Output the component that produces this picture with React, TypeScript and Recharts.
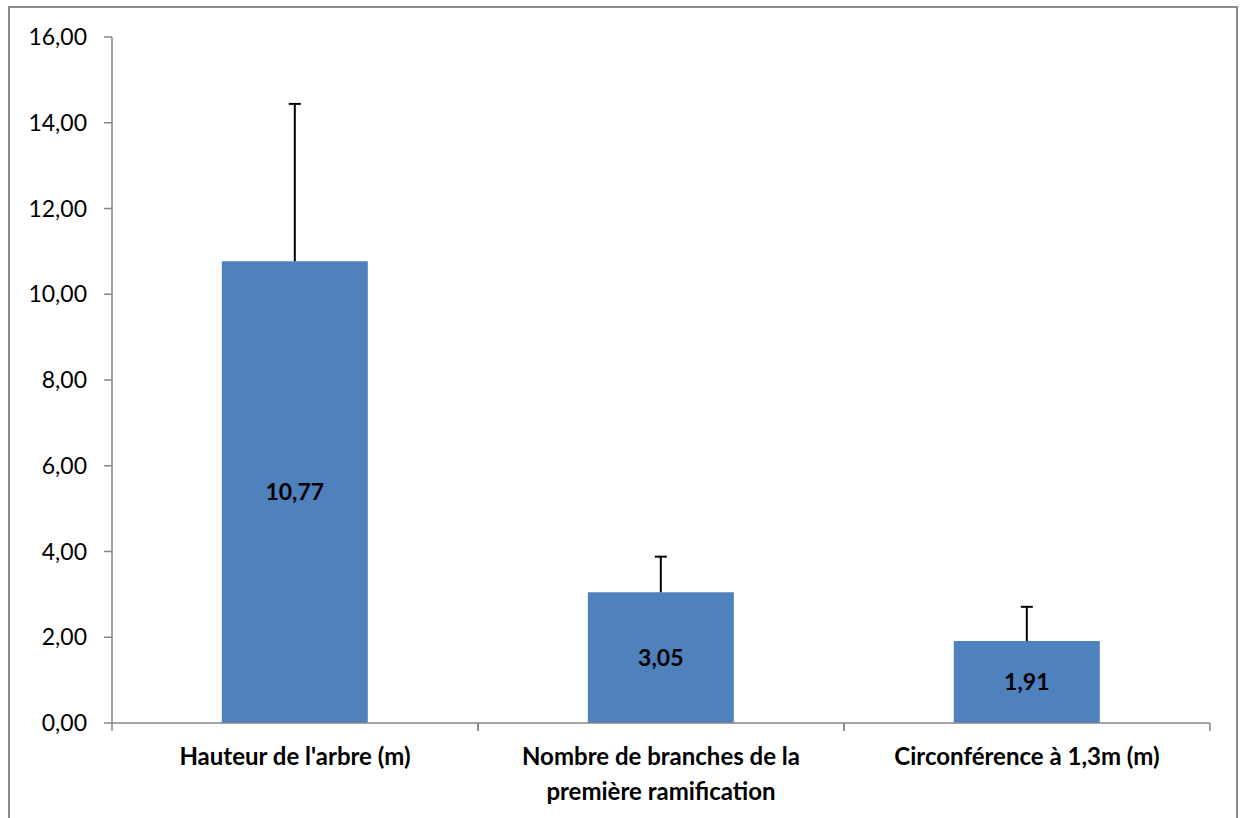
import { BarChart, Bar, XAxis, YAxis, LabelList } from "recharts";

const categories = [
  "Hauteur de l'arbre (m)",
  "Nombre de branches de la\npremière ramification",
  "Circonférence à 1,3m (m)",
];
const means = [10.77, 3.05, 1.91];
const errors = [3.67, 0.83, 0.8];
const yTicks = [0, 2, 4, 6, 8, 10, 12, 14, 16];

const data = categories.map((name, i) => ({ name, mean: means[i], err: errors[i] }));

const fmt = (v: number) => v.toFixed(2).replace(".", ",");
const AXIS = "#868686";

function CategoryTick(props: any) {
  const { x, y, payload, width, visibleTicksCount } = props;
  const band = width / visibleTicksCount;
  const lines = String(payload.value).split("\n");
  return (
    <g>
      <line x1={x - band / 2} x2={x - band / 2} y1={y} y2={y + 8} stroke={AXIS} strokeWidth={1.5} />
      <line x1={x + band / 2} x2={x + band / 2} y1={y} y2={y + 8} stroke={AXIS} strokeWidth={1.5} />
      {lines.map((l, i) => (
        <text key={i} x={x} y={y + 42 + i * 35} textAnchor="middle" fontSize={24} fontWeight="bold" fill="#000">
          {l}
        </text>
      ))}
    </g>
  );
}

// upper-only error bar drawn on a stacked transparent segment
function Whisker(props: any) {
  const { x, y, width, height } = props;
  const cx = x + width / 2;
  return (
    <g>
      <line x1={cx} x2={cx} y1={y} y2={y + height} stroke="#000" strokeWidth={2} />
      <line x1={cx - 6} x2={cx + 6} y1={y} y2={y} stroke="#000" strokeWidth={2} />
    </g>
  );
}

export default function App() {
  return (
    <div
      style={{
        position: "absolute",
        left: 0,
        top: 0,
        width: 1242,
        height: 818,
        overflow: "hidden",
        background: "#fff",
        fontFamily: "Lato, 'Open Sans', sans-serif",
      }}
    >
      <div
        style={{
          position: "absolute",
          left: 8,
          top: 6,
          width: 1226,
          height: 900,
          border: "2px solid #8a8a8a",
        }}
      />
      <BarChart
        width={1242}
        height={818}
        data={data}
        margin={{ top: 37, right: 32, bottom: 0, left: 0 }}
        barCategoryGap="30%"
        style={{ position: "absolute", left: 0, top: 0 }}
      >
        <YAxis
          width={112}
          domain={[0, 16]}
          ticks={yTicks}
          tickFormatter={fmt}
          axisLine={{ stroke: AXIS, strokeWidth: 1.5 }}
          tickLine={{ stroke: AXIS, strokeWidth: 1.5 }}
          tickSize={8}
          tickMargin={17}
          tick={{ fill: "#000", fontSize: 23 }}
          interval={0}
        />
        <XAxis
          dataKey="name"
          height={95}
          axisLine={{ stroke: AXIS, strokeWidth: 1.5 }}
          tickLine={false}
          tickSize={0}
          tickMargin={0}
          interval={0}
          tick={<CategoryTick />}
        />
        <Bar dataKey="mean" stackId="a" fill="#4F81BD" isAnimationActive={false}>
          <LabelList
            dataKey="mean"
            position="center"
            formatter={(v: any) => fmt(Number(v))}
            fill="#000"
            fontSize={23}
            fontWeight="bold"
          />
        </Bar>
        <Bar dataKey="err" stackId="a" shape={<Whisker />} isAnimationActive={false} />
      </BarChart>
    </div>
  );
}
